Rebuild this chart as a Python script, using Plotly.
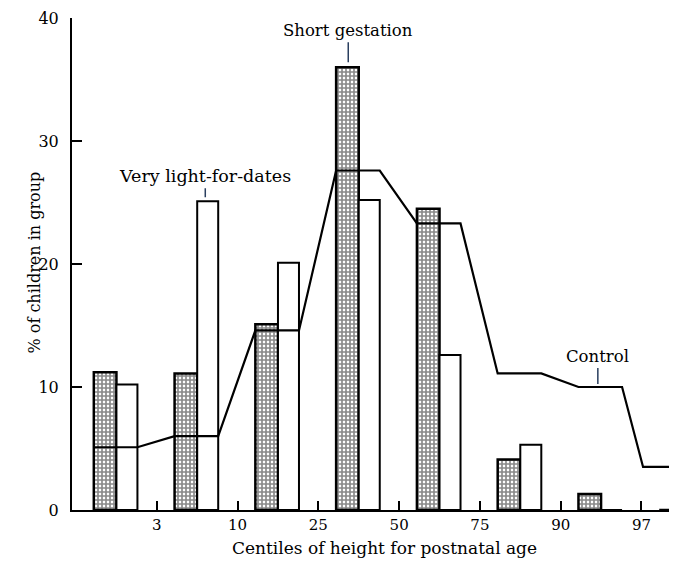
import plotly.graph_objects as go

# Centile bins: <3, 3-10, 10-25, 25-50, 50-75, 75-90, 90-97, >97
boundary_labels = ["3", "10", "25", "50", "75", "90", "97"]
short_gestation = [11.2, 11.1, 15.1, 36.0, 24.5, 4.1, 1.3, 0.0]
very_light = [10.2, 25.1, 20.1, 25.2, 12.6, 5.3, 0.0, 0.0]
control = [5.1, 6.0, 14.6, 27.6, 23.3, 11.1, 10.0, 3.5]

n_bins = len(control)
bins = list(range(n_bins))
x_end = 7.44

TXT = "DejaVu Serif"
NUM = "DejaVu Serif"

fig = go.Figure()

fig.add_trace(go.Bar(
    x=bins, y=short_gestation, offset=0.22, width=0.28,
    marker=dict(color="white",
                pattern=dict(shape="+", fgcolor="#111111", bgcolor="white", size=4, solidity=0.65),
                line=dict(color="black", width=2.5)),
    showlegend=False, name="Short gestation"))

fig.add_trace(go.Bar(
    x=bins, y=very_light, offset=0.50, width=0.26,
    marker=dict(color="white", line=dict(color="black", width=2)),
    showlegend=False, name="Very light-for-dates"))

# Control: flat segment across each bin, joined by slanted connectors
cx, cy = [], []
for i, v in enumerate(control):
    start = i + 0.22 if i < n_bins - 1 else i + 0.02
    end = i + 0.76 if i < n_bins - 1 else x_end
    cx += [start, end]
    cy += [v, v]
fig.add_trace(go.Scatter(x=cx, y=cy, mode="lines",
                         line=dict(color="black", width=2.2),
                         showlegend=False, name="Control", cliponaxis=False))

# The page body has an 8px margin, so the figure is sized to fill the 677x562 window
fig.update_layout(
    width=669, height=554,
    margin=dict(l=64, r=0, t=10, b=52, autoexpand=False),
    barmode="overlay",
    plot_bgcolor="white", paper_bgcolor="white",
    font=dict(family=TXT, size=16, color="black"),
    xaxis=dict(range=[-0.05, x_end], tickvals=list(range(1, n_bins)), ticktext=boundary_labels,
               ticks="inside", ticklen=9, tickwidth=1.5, tickcolor="black",
               showline=True, linecolor="black", linewidth=2,
               showgrid=False, zeroline=False, tickfont=dict(size=15, family=NUM)),
    yaxis=dict(range=[0, 40], tickvals=[0, 10, 20, 30, 40],
               ticks="inside", ticklen=10, tickwidth=1.5, tickcolor="black",
               showline=True, linecolor="black", linewidth=2,
               showgrid=False, zeroline=False, ticklabelstandoff=8,
               tickfont=dict(size=16, family=NUM)),
)

# Pointer labels
fig.add_annotation(x=3.37, y=short_gestation[3], text="Short gestation", showarrow=True,
                   arrowhead=0, arrowwidth=1.5, ax=0, ay=-25, standoff=5, yanchor="bottom",
                   font=dict(family=TXT, size=16.5))
fig.add_annotation(x=1.60, y=very_light[1], text="Very light-for-dates", showarrow=True,
                   arrowhead=0, arrowwidth=1.5, ax=0, ay=-13, standoff=4, yanchor="bottom",
                   font=dict(family=TXT, size=17.5))
fig.add_annotation(x=6.46, y=control[6], text="Control", showarrow=True,
                   arrowhead=0, arrowwidth=1.5, ax=0, ay=-19, standoff=3, yanchor="bottom",
                   font=dict(family=TXT, size=16.5))

# Axis titles
fig.add_annotation(x=0.516, xref="paper", y=-0.077, yref="paper", yanchor="middle",
                   text="Centiles of height for postnatal age", showarrow=False,
                   font=dict(family=TXT, size=17))
fig.add_annotation(x=-0.081, xref="paper", y=0.504, yref="paper", textangle=-90,
                   text="% of children in group", showarrow=False,
                   font=dict(family=TXT, size=16))

fig.write_html("out.html")
